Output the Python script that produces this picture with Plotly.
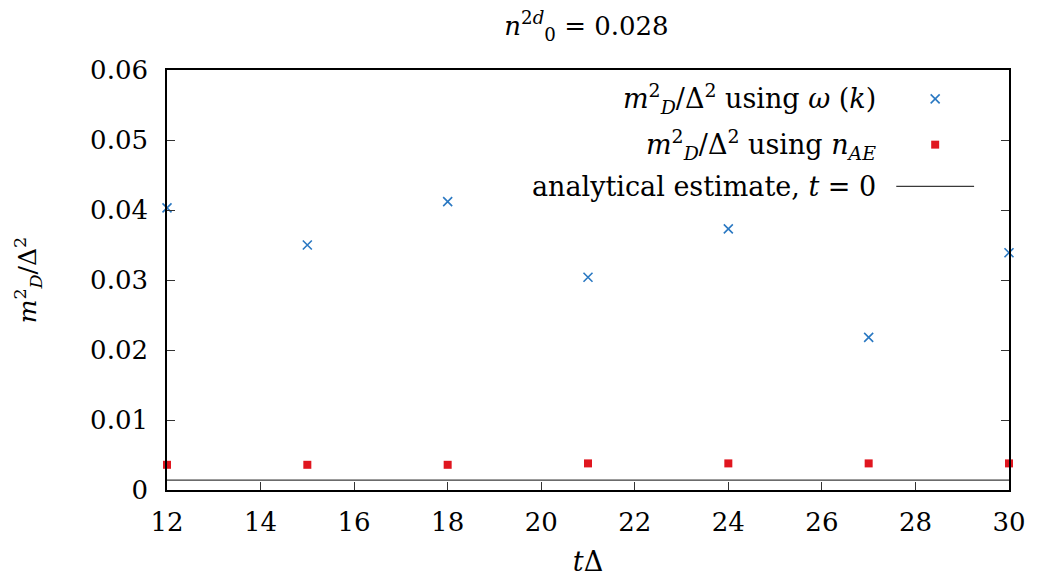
import plotly.graph_objects as go

# ---- data ----
t_delta = [12, 15, 18, 21, 24, 27, 30]
m2_omega = [0.0403, 0.0350, 0.0412, 0.0304, 0.0373, 0.0218, 0.0339]
m2_nae = [0.0036, 0.0036, 0.0036, 0.0038, 0.0038, 0.0038, 0.0038]
analytic_t0 = 0.00142
x_ticks = [12, 14, 16, 18, 20, 22, 24, 26, 28, 30]
y_ticks = [0, 0.01, 0.02, 0.03, 0.04, 0.05, 0.06]
y_tick_text = ["0", "0.01", "0.02", "0.03", "0.04", "0.05", "0.06"]

FONT = "DejaVu Serif"
BLUE = "#2a78c2"
RED = "#e0161f"
GRAY = "#3a3a3a"

W, H = 1038, 584
L, R, T, B = 167, 27, 70, 92

fig = go.Figure()

fig.add_trace(go.Scatter(
    x=[t_delta[0], t_delta[-1]], y=[analytic_t0, analytic_t0],
    mode="lines", line=dict(color=GRAY, width=1.3), showlegend=False,
    cliponaxis=False))
fig.add_trace(go.Scatter(
    x=t_delta, y=m2_nae, mode="markers",
    marker=dict(symbol="square", size=8, color=RED, line=dict(width=0)),
    showlegend=False, cliponaxis=False))
fig.add_trace(go.Scatter(
    x=t_delta, y=m2_omega, mode="markers",
    marker=dict(symbol="x-thin", size=9, line=dict(color=BLUE, width=1.6)),
    showlegend=False, cliponaxis=False))

pw = W - L - R
ph = H - T - B


def px(xp):
    return (xp - L) / pw


def py(yp):
    return 1 - (yp - T) / ph


labels = [
    "<i>m</i><sup>2</sup><sub><i>D</i></sub>/Δ<sup>2</sup> using <i>ω</i> (<i>k</i>)",
    "<i>m</i><sup>2</sup><sub><i>D</i></sub>/Δ<sup>2</sup> using <i>n</i><sub><i>AE</i></sub>",
    "analytical estimate, <i>t</i> = 0",
]
rows_y = [99, 145, 187]
for lab, yy in zip(labels, rows_y):
    fig.add_annotation(
        x=px(880), y=py(yy), xref="paper", yref="paper", text=lab,
        showarrow=False, xanchor="right", yanchor="middle",
        font=dict(family=FONT, size=27, color="black"))

# legend samples
cx = 937
fig.add_shape(type="line", xref="paper", yref="paper",
              x0=px(cx - 4.5), x1=px(cx + 4.5), y0=py(rows_y[0] - 4.5), y1=py(rows_y[0] + 4.5),
              line=dict(color=BLUE, width=1.6))
fig.add_shape(type="line", xref="paper", yref="paper",
              x0=px(cx - 4.5), x1=px(cx + 4.5), y0=py(rows_y[0] + 4.5), y1=py(rows_y[0] - 4.5),
              line=dict(color=BLUE, width=1.6))
fig.add_shape(type="rect", xref="paper", yref="paper",
              x0=px(cx - 4), x1=px(cx + 4), y0=py(rows_y[1] - 4), y1=py(rows_y[1] + 4),
              fillcolor=RED, line=dict(width=0))
fig.add_shape(type="line", xref="paper", yref="paper",
              x0=px(898), x1=px(976), y0=py(rows_y[2]), y1=py(rows_y[2]),
              line=dict(color=GRAY, width=1.3))

fig.update_layout(
    width=W, height=H,
    margin=dict(l=L, r=R, t=T, b=B, pad=0),
    paper_bgcolor="white", plot_bgcolor="white",
    font=dict(family=FONT, size=26, color="black"),
    title=dict(text="<i>n</i><sup>2<i>d</i></sup><sub>0</sub> = 0.028",
               x=0.565, xanchor="center", y=0.955, yanchor="middle",
               font=dict(family=FONT, size=26)),
    showlegend=False,
)
fig.update_xaxes(
    range=[12, 30], tickvals=x_ticks, ticktext=[str(v) for v in x_ticks],
    ticks="inside", ticklen=8, tickwidth=1.3, tickcolor="#333",
    showline=True, linecolor="black", linewidth=1.6, mirror=True,
    showgrid=False, zeroline=False,
    title=dict(text="<i>t</i>Δ", standoff=16, font=dict(family=FONT, size=27)),
    tickfont=dict(family=FONT, size=26), ticklabelstandoff=8,
)
fig.update_yaxes(
    range=[0, 0.06], tickvals=y_ticks, ticktext=y_tick_text,
    ticks="inside", ticklen=8, tickwidth=1.3, tickcolor="#333",
    showline=True, linecolor="black", linewidth=1.6, mirror="ticks",
    showgrid=False, zeroline=False,
    title=dict(text="<i>m</i><sup>2</sup><sub><i>D</i></sub>/Δ<sup>2</sup>", standoff=46,
               font=dict(family=FONT, size=25)),
    tickfont=dict(family=FONT, size=26), ticklabelstandoff=12,
)

fig.write_html("out.html")
